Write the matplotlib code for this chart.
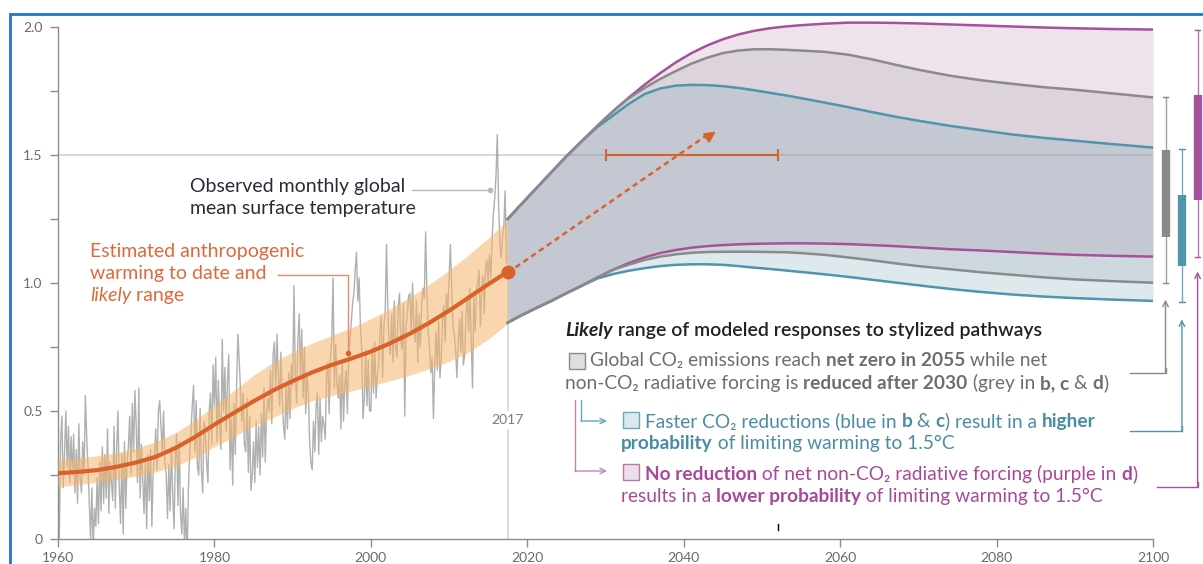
import numpy as np
import matplotlib.pyplot as plt
from matplotlib.patches import Rectangle
from matplotlib.lines import Line2D

FAM = ['Lato', 'DejaVu Sans']
plt.rcParams['font.family'] = FAM

W, H = 1203, 564

# observed monthly global mean surface temperature (6 samples per year, 1960-2017)
obs = [
    0.30, 0.00, 0.38, 0.48, 0.20, 0.33,  # 1960
    0.50, 0.28, 0.44, 0.22, 0.40, 0.25,
    0.41, 0.18, 0.35, 0.14, 0.45, 0.24,
    0.18, 0.38, 0.25, 0.56, 0.40, 0.28,
    0.14, 0.00, 0.20, -0.04, 0.12, 0.05,
    0.24, 0.06, 0.30, 0.11, 0.36, 0.14,
    0.33, 0.16, 0.43, 0.10, 0.30, 0.22,
    0.15, 0.44, 0.12, 0.35, 0.50, 0.20,
    0.06, 0.33, 0.02, 0.38, 0.12, 0.30,
    0.36, 0.48, 0.25, 0.53, 0.34, 0.58,
    0.44, 0.22, 0.59, 0.16, 0.37, 0.23,  # 1970
    0.10, 0.30, 0.04, 0.33, 0.15, 0.35,
    0.05, 0.26, 0.33, 0.43, 0.27, 0.50,
    0.54, 0.44, 0.34, 0.50, 0.30, 0.25,
    0.08, 0.29, 0.11, 0.36, 0.18, 0.04,
    0.31, 0.41, 0.13, 0.38, 0.10, 0.02,
    0.20, -0.02, 0.12, -0.08, 0.19, 0.33,
    0.42, 0.52, 0.60, 0.34, 0.54, 0.28,
    0.25, 0.51, 0.27, 0.18, 0.46, 0.43,
    0.30, 0.22, 0.50, 0.57, 0.37, 0.68,
    0.52, 0.71, 0.38, 0.62, 0.44, 0.35,  # 1980
    0.78, 0.50, 0.67, 0.42, 0.62, 0.72,
    0.27, 0.47, 0.21, 0.53, 0.33, 0.60,
    0.80, 0.70, 0.58, 0.46, 0.57, 0.37,
    0.34, 0.55, 0.26, 0.48, 0.19, 0.25,
    0.38, 0.22, 0.46, 0.28, 0.44, 0.25,
    0.49, 0.32, 0.59, 0.30, 0.50, 0.55,
    0.50, 0.66, 0.45, 0.72, 0.77, 0.58,
    0.80, 0.64, 0.52, 0.73, 0.55, 0.44,
    0.39, 0.60, 0.43, 0.65, 0.47, 0.68,
    0.60, 0.99, 0.66, 0.53, 0.77, 0.88,  # 1990
    0.63, 0.82, 0.55, 0.75, 0.49, 0.64,
    0.58, 0.38, 0.30, 0.27, 0.46, 0.34,
    0.52, 0.57, 0.33, 0.55, 0.38, 0.48,
    0.45, 0.39, 0.64, 0.69, 0.49, 0.71,
    0.78, 1.02, 0.59, 0.76, 0.61, 0.55,
    0.64, 0.43, 0.70, 0.46, 0.60, 0.66,
    0.49, 0.71, 0.78, 0.85, 0.92, 0.96,
    1.05, 1.12, 0.93, 1.02, 0.83, 0.74,
    0.47, 0.55, 0.74, 0.52, 0.70, 0.50,
    0.50, 0.75, 0.57, 0.77, 0.55, 0.64,  # 2000
    0.68, 0.81, 0.87, 0.63, 0.83, 0.89,
    1.15, 0.90, 0.76, 0.72, 0.88, 0.69,
    0.93, 0.75, 0.71, 0.91, 0.96, 0.77,
    0.74, 0.92, 0.48, 0.83, 0.88, 0.95,
    0.96, 0.80, 1.00, 0.83, 0.77, 0.93,
    0.69, 0.88, 0.75, 0.92, 0.98, 0.94,
    1.20, 0.96, 0.81, 0.75, 0.65, 0.71,
    0.47, 0.68, 0.81, 0.66, 0.85, 0.63,
    0.71, 0.86, 0.91, 0.77, 0.96, 0.88,
    1.01, 1.15, 0.98, 0.83, 0.80, 0.74,  # 2010
    0.63, 0.77, 0.86, 0.73, 0.89, 0.68,
    0.72, 0.88, 0.95, 0.81, 0.98, 0.77,
    0.59, 0.95, 0.81, 0.97, 1.00, 1.05,
    0.83, 0.98, 1.03, 0.88, 1.06, 1.09,
    1.00, 1.11, 1.02, 1.17, 1.27, 1.33,
    1.42, 1.58, 1.30, 1.15, 1.10, 1.18,
    1.22, 1.36, 1.08,  # 2017
]
obs_years = 1960 + np.arange(len(obs)) / 6

# estimated anthropogenic warming and likely range
ant_years = [1960, 1962.5, 1965, 1967.5, 1970, 1972.5, 1975, 1977.5, 1980, 1982.5, 1985, 1987.5,
             1990, 1992.5, 1995, 1997.5, 2000, 2002.5, 2005, 2007.5, 2010, 2012.5, 2015, 2017.5]
ant_mid = [0.257, 0.262, 0.269, 0.282, 0.299, 0.321, 0.355, 0.398, 0.447, 0.493, 0.538, 0.58,
           0.617, 0.651, 0.68, 0.705, 0.732, 0.765, 0.802, 0.845, 0.892, 0.943, 0.995, 1.044]
ant_lo = [0.204, 0.212, 0.222, 0.233, 0.246, 0.262, 0.285, 0.318, 0.36, 0.40, 0.44, 0.475,
          0.51, 0.54, 0.56, 0.578, 0.598, 0.618, 0.64, 0.665, 0.694, 0.73, 0.78, 0.842]
ant_hi = [0.306, 0.315, 0.325, 0.338, 0.355, 0.38, 0.415, 0.463, 0.52, 0.58, 0.64, 0.69,
          0.73, 0.765, 0.795, 0.825, 0.86, 0.90, 0.945, 0.995, 1.05, 1.11, 1.175, 1.246]

# likely range of modeled responses to stylized pathways
proj_years = [2017.5, 2019, 2021, 2023, 2025, 2027, 2029, 2031, 2033, 2035, 2037, 2039, 2041, 2043,
              2045, 2047, 2049, 2051, 2053, 2055, 2058, 2061, 2064, 2067, 2070, 2074, 2078, 2082,
              2086, 2090, 2095, 2100]
purple_hi = [1.25, 1.30, 1.365, 1.43, 1.495, 1.555, 1.615, 1.672, 1.725, 1.775, 1.82, 1.862, 1.898, 1.928,
             1.952, 1.971, 1.985, 1.995, 2.002, 2.007, 2.013, 2.017, 2.017, 2.016, 2.014, 2.01, 2.006, 2.002,
             1.998, 1.995, 1.992, 1.99]
grey_hi = [1.25, 1.30, 1.365, 1.43, 1.495, 1.555, 1.615, 1.672, 1.722, 1.762, 1.797, 1.828, 1.857, 1.88,
           1.898, 1.908, 1.913, 1.913, 1.911, 1.908, 1.903, 1.892, 1.874, 1.853, 1.833, 1.81, 1.792, 1.778,
           1.765, 1.755, 1.74, 1.725]
blue_hi = [1.25, 1.30, 1.365, 1.43, 1.495, 1.555, 1.61, 1.655, 1.70, 1.738, 1.76, 1.771, 1.774, 1.773,
           1.769, 1.762, 1.753, 1.743, 1.733, 1.722, 1.705, 1.687, 1.668, 1.65, 1.634, 1.614, 1.597, 1.58,
           1.567, 1.556, 1.542, 1.529]
purple_lo = [0.845, 0.87, 0.90, 0.929, 0.96, 0.99, 1.022, 1.052, 1.078, 1.10, 1.117, 1.129, 1.138, 1.144,
             1.148, 1.151, 1.153, 1.154, 1.155, 1.155, 1.154, 1.152, 1.148, 1.144, 1.139, 1.132, 1.127, 1.121,
             1.115, 1.11, 1.106, 1.103]
grey_lo = [0.845, 0.87, 0.90, 0.929, 0.96, 0.99, 1.022, 1.052, 1.072, 1.09, 1.103, 1.112, 1.118, 1.121,
           1.122, 1.122, 1.122, 1.121, 1.12, 1.117, 1.11, 1.10, 1.089, 1.077, 1.066, 1.054, 1.042, 1.032,
           1.022, 1.014, 1.007, 1.001]
blue_lo = [0.845, 0.87, 0.90, 0.929, 0.96, 0.99, 1.018, 1.035, 1.048, 1.058, 1.066, 1.071, 1.073, 1.073,
           1.071, 1.066, 1.06, 1.055, 1.049, 1.043, 1.034, 1.024, 1.013, 1.002, 0.991, 0.977, 0.965, 0.955,
           0.947, 0.941, 0.935, 0.93]

# ranges at 2100: whisker low, box low, box high, whisker high
bar_names = ['grey', 'blue', 'purple']
bar_x = [2101.6, 2103.7, 2105.7]
bar_whisk_lo = [1.0, 0.927, 1.103]
bar_box_lo = [1.18, 1.067, 1.324]
bar_box_hi = [1.52, 1.344, 1.734]
bar_whisk_hi = [1.725, 1.525, 1.99]

# 1.5 reached between 2030 and 2052
reach_years = [2030, 2052]

ORANGE = '#d9622b'
ORANGE_LT = '#e9886a'
GREY = '#8a8a8a'
BLUE = '#4f95ab'
PURPLE = '#a5529a'
colors = {'grey': GREY, 'blue': BLUE, 'purple': PURPLE}

YTOP = 2.03
fig = plt.figure(figsize=(W / 100, H / 100), dpi=100)
ax = fig.add_axes([58 / W, (H - 539) / H, (1153 - 58) / W, YTOP * 256 / H])
ax.set_xlim(1960, 2100)
ax.set_ylim(0, YTOP)

# axes styling
for s in ['top', 'right']:
    ax.spines[s].set_visible(False)
for s in ['left', 'bottom']:
    ax.spines[s].set_color('#8c8c8c')
    ax.spines[s].set_linewidth(1)
ax.spines['left'].set_bounds(0, 2.0)
ax.set_yticks(np.arange(0, 2.01, 0.25))
ax.set_yticklabels(['0', '', '0.5', '', '1.0', '', '1.5', '', '2.0'])
ax.set_xticks(range(1960, 2101, 20))
ax.tick_params(colors='#8c8c8c', labelcolor='#6a6a6a', labelsize=10, length=6, width=1)
ax.tick_params(axis='y', pad=5)
ax.tick_params(axis='x', pad=3)

# 2017 marker line and 1.5 line
ax.plot([2017.5, 2017.5], [0, 1.25], color='#d6d6d6', lw=1.2, zorder=1)
ax.text(2017.5, 0.465, '2017', ha='center', va='center', color='#7a7a7a', fontsize=10,
        bbox=dict(fc='white', ec='none', pad=2), zorder=2)

# observations, anthropogenic warming
ax.plot(obs_years, obs, color='#b0b0b0', lw=1.0, zorder=2)
ax.fill_between(ant_years, ant_lo, ant_hi, color='#f7b56e', alpha=0.55, lw=0, zorder=3)
ax.plot(ant_years, ant_mid, color=ORANGE, lw=3, zorder=5, solid_capstyle='round')
ax.plot(ant_years[-1], ant_mid[-1], 'o', color=ORANGE, ms=9, zorder=6)

# projection fan
stripes = [(purple_hi, grey_hi, '#eee2ec'), (grey_hi, blue_hi, '#ddd3dc'),
           (blue_hi, purple_lo, '#c4c8d3'), (purple_lo, grey_lo, '#cdd9de'),
           (grey_lo, blue_lo, '#dee9ee')]
for a, b, c in stripes:
    ax.fill_between(proj_years, a, b, color=c, lw=0, zorder=2)
ax.axhline(1.5, color='#999999', alpha=0.45, lw=1.2, zorder=3)
for hi, lo, c in [(purple_hi, purple_lo, PURPLE), (blue_hi, blue_lo, BLUE), (grey_hi, grey_lo, GREY)]:
    ax.plot(proj_years, hi, color=c, lw=1.8, zorder=4)
    ax.plot(proj_years, lo, color=c, lw=1.8, zorder=4)

# dashed arrow from 2017 and the range when 1.5 is reached
ax.plot([2017.5, 2043.0], [1.04, 1.578], color=ORANGE, lw=1.8, ls=(0, (2.2, 1.6)), zorder=6)
ax.annotate('', xy=(2044.4, 1.598), xytext=(2042.6, 1.56),
            arrowprops=dict(arrowstyle='-|>', color=ORANGE, lw=1.5, mutation_scale=16), zorder=6)
mid = np.mean(reach_years)
ax.errorbar(mid, 1.5, xerr=[[mid - reach_years[0]], [reach_years[1] - mid]],
            fmt='none', ecolor=ORANGE, elinewidth=1.5, capsize=4, capthick=1.5, zorder=6)
ax.plot([2052, 2052], [0.035, 0.058], color='black', lw=1, zorder=6)

# ranges at 2100 (outside the axes)
for name, x, wl, bl, bh, wh in zip(bar_names, bar_x, bar_whisk_lo, bar_box_lo, bar_box_hi, bar_whisk_hi):
    c = colors[name]
    ax.plot([x, x], [wl, wh], color=c, lw=1, clip_on=False, alpha=0.8)
    for v in (wl, wh):
        ax.plot([x - 0.35, x + 0.35], [v, v], color=c, lw=1, clip_on=False)
    ax.plot([x, x], [bl, bh], color=c, lw=6, clip_on=False, solid_capstyle='butt')

# connectors from the legend text to the bars
conn = [('grey', 2097.1, 0.648, 0.935), ('blue', 2097.1, 0.422, 0.858), ('purple', 2100.5, 0.203, 1.045)]
for (name, x0, y0, y1), x in zip(conn, bar_x):
    c = colors[name]
    ax.plot([x0, x, x], [y0, y0, y0 + 0.02], color=c, lw=1, clip_on=False)
    ax.annotate('', xy=(x, y1), xytext=(x, y0),
                arrowprops=dict(arrowstyle='->', color=c, lw=1, mutation_scale=10,
                                shrinkA=0, shrinkB=0), annotation_clip=False)

# annotation leaders on the left
ax.plot([2005.2, 2015.2], [1.363, 1.363], color='#b8b8b8', lw=1, zorder=4)
ax.plot(2015.2, 1.363, 'o', color='#b8b8b8', ms=3, zorder=4)
ax.plot([1988.1, 1997.1, 1997.1], [1.031, 1.031, 0.727], color=ORANGE_LT, lw=1, zorder=6)
ax.plot(1997.1, 0.727, 'o', color=ORANGE, ms=3, zorder=6)

# blue frame around the panel
fig.add_artist(Rectangle((10 / W, -0.1), 1.2, 1.1 - 14 / H, transform=fig.transFigure,
                         fill=False, ec='#1f76cc', lw=2))

renderer = fig.canvas.get_renderer()


def text_width(s, **kw):
    t1 = fig.text(0, 0, '|' + s + '|', **kw)
    t2 = fig.text(0, 0, '||', **kw)
    w = t1.get_window_extent(renderer).width - t2.get_window_extent(renderer).width
    t1.remove()
    t2.remove()
    return w


def rich_line(x, y, parts, color, size=13.8):
    # parts: (text, weight, style); x, y in pixels from top left, y = baseline
    for s, wgt, sty in parts:
        kw = dict(fontsize=size, fontweight=wgt, fontstyle=sty, family=FAM)
        fig.text(x / W, 1 - y / H, s, color=color, va='baseline', ha='left', **kw)
        x += text_width(s, **kw)


N, B, I = 'normal', 'bold', 'italic'
rich_line(190, 192, [('Observed monthly global', N, N)], '#2b2b38', 14)
rich_line(190, 214, [('mean surface temperature', N, N)], '#2b2b38', 14)
rich_line(90, 257, [('Estimated anthropogenic', N, N)], '#e0683a', 14)
rich_line(90, 279, [('warming to date and', N, N)], '#e0683a', 14)
rich_line(90, 301, [('likely', N, I), (' range', N, N)], '#e0683a', 14)

rich_line(565, 336, [('Likely', B, I), (' range of modeled responses to stylized pathways', 'semibold', N)],
          '#222222', 14)
grey_txt = '#6e6e6e'
rich_line(590, 366, [('Global CO₂ emissions reach ', N, N), ('net zero in 2055', B, N),
                     (' while net', N, N)], grey_txt)
rich_line(565, 389, [('non-CO₂ radiative forcing is ', N, N), ('reduced after 2030', B, N),
                     (' (grey in ', N, N), ('b, c', B, N), (' & ', N, N), ('d', B, N), (')', N, N)], grey_txt)
blue_txt = '#4a8ca4'
rich_line(645, 427, [('Faster CO₂ reductions (blue in ', N, N), ('b', B, N), (' & ', N, N), ('c', B, N),
                     (') result in a ', N, N), ('higher', B, N)], blue_txt)
rich_line(621, 449, [('probability', B, N), (' of limiting warming to 1.5°C', N, N)], blue_txt)
purple_txt = '#a8489a'
rich_line(645, 480, [('No reduction', B, N), (' of net non-CO₂ radiative forcing (purple in ', N, N),
                     ('d', B, N), (')', N, N)], purple_txt)
rich_line(621, 502, [('results in a ', N, N), ('lower probability', B, N),
                     (' of limiting warming to 1.5°C', N, N)], purple_txt)

# legend boxes
for (x0, y0), fc, ec in [((569, 353), '#dedede', '#8a8a8a'), ((623, 412), '#dce8ee', '#6fa5b8'),
                         ((623, 464), '#eddfe9', '#b57aa8')]:
    fig.add_artist(Rectangle((x0 / W, 1 - (y0 + 16) / H), 16 / W, 16 / H, transform=fig.transFigure,
                             fc=fc, ec=ec, lw=1))

# legend connectors
for xv, yb, c in [(581, 421, '#6fa5b8'), (575, 471, '#c284b6')]:
    fig.add_artist(Line2D([xv / W, xv / W], [1 - 400 / H, 1 - yb / H], transform=fig.transFigure, color=c, lw=1))
    ax.annotate('', xy=(607 / W, 1 - yb / H), xytext=(xv / W, 1 - yb / H), xycoords='figure fraction',
                arrowprops=dict(arrowstyle='->', color=c, lw=1, mutation_scale=10, shrinkA=0, shrinkB=0))

fig.savefig('out.png', dpi=100)
